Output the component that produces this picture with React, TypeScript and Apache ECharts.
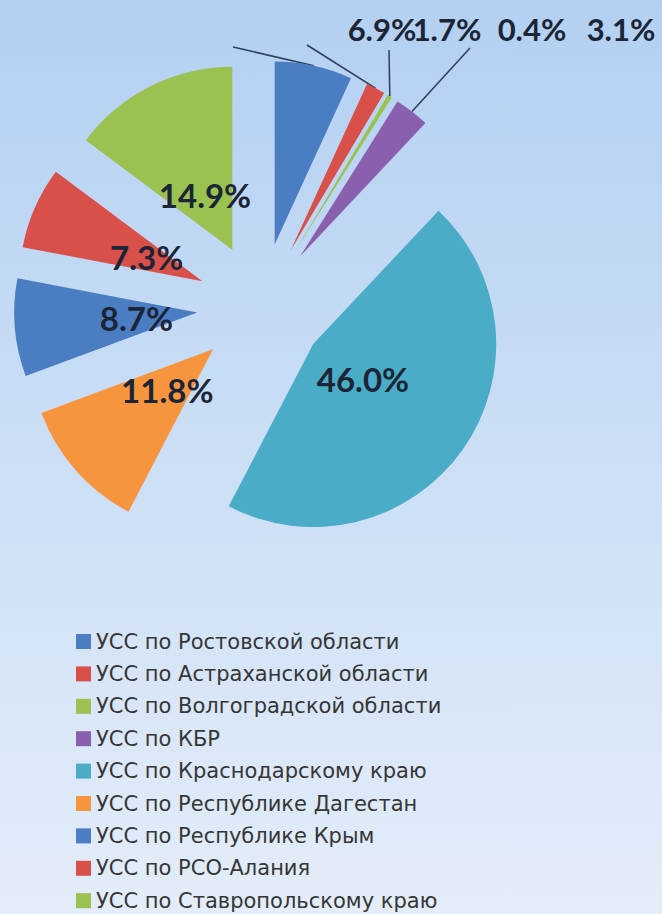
import React, { useEffect, useRef } from 'react';
import * as echarts from 'echarts';

const categories = [
  'УСС по Ростовской области',
  'УСС по Астраханской области',
  'УСС по Волгоградской области',
  'УСС по КБР',
  'УСС по Краснодарскому краю',
  'УСС по Республике Дагестан',
  'УСС по Республике Крым',
  'УСС по РСО-Алания',
  'УСС по Ставропольскому краю',
];
const shares = [6.9, 1.7, 0.4, 3.1, 46.0, 11.8, 8.7, 7.3, 14.9];
const colors = ['#4a7dc2', '#d9504a', '#9bc150', '#8a5fae', '#4aacc6', '#f7953f', '#4a7dc2', '#d9504a', '#9bc150'];
// which labels sit above the chart (style flag)
const labelOutside = [true, true, true, true, false, false, false, false, false];

// layout only (label anchor positions and leader-line ends for the outside labels)
const outsideLabelPos = [[382, 29], [447, 29], [532, 29], [621, 29]];
const leaderEnds = [[233, 47], [307, 45], [389, 50], [470, 48]];
const RADIUS = 183;
const EXPLODE = 64;
const INNER_LABEL_DIST = 58;

const fmt = (p: any) => `${Number(p.value).toFixed(1)}%`;
const labelFont = { fontFamily: 'Lato', fontWeight: 'bold' as const, fontSize: 33, color: '#1b2535' };

export default function App() {
  const ref = useRef<HTMLDivElement>(null);
  useEffect(() => {
    const chart = echarts.init(ref.current!, undefined, { renderer: 'svg' });
    const outIdx = labelOutside.map((o, i) => (o ? i : -1)).filter((i) => i >= 0);
    const center = [261, 307];
    const common = { type: 'pie', center, startAngle: 90, clockwise: true, emphasis: { disabled: true } };
    const option: any = {
      animation: false,
      backgroundColor: new echarts.graphic.LinearGradient(0, 0, 0, 1, [
        { offset: 0, color: '#b3d0f2' },
        { offset: 1, color: '#e4edf9' },
      ]),
      legend: {
        orient: 'vertical',
        left: 76,
        top: 631,
        height: 300,
        padding: 0,
        icon: 'rect',
        itemWidth: 15,
        itemHeight: 15,
        itemGap: 11.4,
        data: categories,
        textStyle: { fontFamily: 'DejaVu Sans', fontSize: 21, lineHeight: 20, color: '#363636' },
      },
      series: [
        {
          ...common,
          radius: RADIUS,
          selectedMode: 'multiple',
          selectedOffset: EXPLODE,
          avoidLabelOverlap: false,
          itemStyle: { borderWidth: 0 },
          label: { show: false },
          labelLine: { show: false },
          data: shares.map((v, i) => ({
            name: categories[i],
            value: v,
            selected: true,
            itemStyle: { color: colors[i] },
          })),
        },
        {
          // transparent carrier: its inside labels fall at EXPLODE + INNER_LABEL_DIST from the centre
          ...common,
          radius: 2 * (EXPLODE + INNER_LABEL_DIST),
          silent: true,
          avoidLabelOverlap: false,
          itemStyle: { color: 'rgba(0,0,0,0)', borderWidth: 0 },
          label: { show: true, position: 'inside', formatter: fmt, ...labelFont },
          labelLine: { show: false },
          data: shares.map((v, i) => ({
            name: categories[i],
            value: v,
            label: { show: !labelOutside[i] },
          })),
        },
        {
          // transparent carrier whose edge is the exploded slices' outer edge
          ...common,
          radius: RADIUS + EXPLODE,
          silent: true,
          avoidLabelOverlap: false,
          itemStyle: { color: 'rgba(0,0,0,0)', borderWidth: 0 },
          label: { show: true, position: 'outside', formatter: fmt, ...labelFont, fontSize: 31 },
          labelLine: { show: true, length: 5, length2: 5, lineStyle: { color: '#2c3e5c', width: 1.5 } },
          labelLayout: (params: any) => {
            if (params.seriesIndex !== 2) return undefined;
            const k = outIdx.indexOf(params.dataIndex);
            if (k < 0) return undefined;
            const pts = params.labelLinePoints;
            const start = pts ? pts[0] : leaderEnds[k];
            return {
              x: outsideLabelPos[k][0],
              y: outsideLabelPos[k][1],
              align: 'center',
              verticalAlign: 'middle',
              labelLinePoints: [start, leaderEnds[k], leaderEnds[k]],
            };
          },
          data: shares.map((v, i) => ({
            name: categories[i],
            value: v,
            label: { show: labelOutside[i] },
            labelLine: { show: labelOutside[i] },
          })),
        },
      ],
    };
    chart.setOption(option);
    return () => chart.dispose();
  }, []);
  return <div ref={ref} style={{ position: 'absolute', left: 0, top: 0, width: 662, height: 914 }} />;
}
